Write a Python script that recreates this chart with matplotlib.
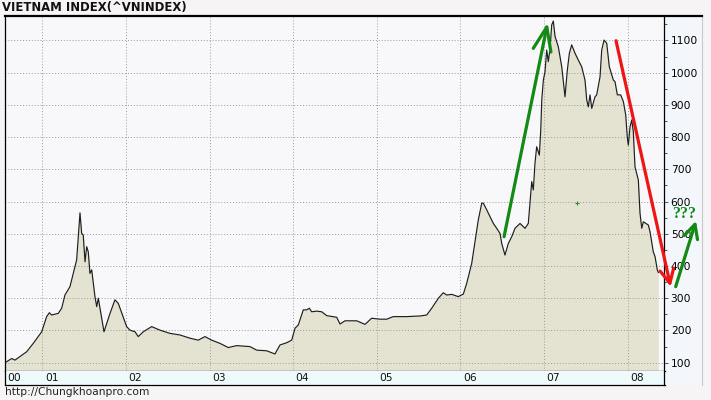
import matplotlib.pyplot as plt
from matplotlib.lines import Line2D
from matplotlib.patches import Rectangle
from matplotlib.ticker import MultipleLocator, FixedLocator

# VN-Index, decimal year vs. index value
years = [2000.553, 2000.633, 2000.672, 2000.732, 2000.812, 2000.891, 2000.992,
         2001.051, 2001.083, 2001.111, 2001.190, 2001.231, 2001.270, 2001.330,
         2001.410, 2001.450, 2001.470, 2001.489, 2001.510, 2001.530, 2001.549,
         2001.569, 2001.590, 2001.629, 2001.650, 2001.669, 2001.689, 2001.737,
         2001.809, 2001.868, 2001.908, 2002.008, 2002.048, 2002.108, 2002.147,
         2002.207, 2002.307, 2002.407, 2002.526, 2002.646, 2002.766, 2002.865,
         2002.945, 2003.025, 2003.124, 2003.224, 2003.324, 2003.483, 2003.563,
         2003.683, 2003.782, 2003.842, 2003.922, 2003.982, 2004.022, 2004.061,
         2004.121, 2004.161, 2004.193, 2004.221, 2004.281, 2004.341, 2004.401,
         2004.520, 2004.560, 2004.620, 2004.760, 2004.859, 2004.939, 2005.038,
         2005.118, 2005.197, 2005.358, 2005.517, 2005.597, 2005.657, 2005.736,
         2005.795, 2005.836, 2005.896, 2005.975, 2006.035, 2006.075, 2006.135,
         2006.214, 2006.255, 2006.274, 2006.315, 2006.354, 2006.394, 2006.434,
         2006.474, 2006.494, 2006.533, 2006.573, 2006.614, 2006.653, 2006.713,
         2006.773, 2006.812, 2006.853, 2006.872, 2006.892, 2006.912, 2006.944,
         2006.961, 2006.973, 2006.992, 2007.012, 2007.032, 2007.051, 2007.072,
         2007.092, 2007.111, 2007.132, 2007.171, 2007.212, 2007.251, 2007.279,
         2007.303, 2007.331, 2007.371, 2007.410, 2007.451, 2007.490, 2007.511,
         2007.530, 2007.550, 2007.571, 2007.610, 2007.630, 2007.670, 2007.690,
         2007.718, 2007.750, 2007.781, 2007.810, 2007.829, 2007.849, 2007.877,
         2007.917, 2007.949, 2007.977, 2007.996, 2008.008, 2008.029, 2008.049,
         2008.068, 2008.088, 2008.128, 2008.148, 2008.169, 2008.188, 2008.208,
         2008.248, 2008.268, 2008.307, 2008.328, 2008.355, 2008.367]
index = [100, 113, 108, 119, 134, 160, 196,
         243, 255, 248, 253, 269, 310, 336,
         419, 565, 501, 496, 413, 460, 444,
         377, 388, 305, 274, 300, 269, 196,
         253, 295, 284, 212, 201, 196, 181,
         196, 212, 201, 191, 186, 176, 170,
         181, 170, 160, 147, 153, 150, 139,
         137, 127, 155, 162, 170, 207, 217,
         264, 264, 269, 258, 260, 258, 246,
         241, 220, 230, 230, 219, 238, 235,
         235, 243, 243, 245, 248, 269, 300,
         317, 310, 312, 305, 313, 346, 408,
         543, 595, 595, 574, 553, 532, 517,
         501, 470, 434, 470, 491, 517, 532,
         517, 532, 662, 636, 719, 770, 744,
         822, 915, 977, 1003, 1070, 1034, 1075,
         1148, 1160, 1112, 1080, 1018, 925, 1008,
         1060, 1086, 1060, 1039, 1018, 977, 915,
         894, 931, 889, 925, 931, 987, 1070,
         1101, 1091, 1018, 993, 977, 972, 931,
         931, 910, 869, 800, 775, 832, 853,
         817, 708, 667, 564, 517, 537, 534,
         527, 506, 444, 429, 388, 380]

year_starts = [2000, 2001, 2002, 2003, 2004, 2005, 2006, 2007, 2008]
year_labels = ['00', '01', '02', '03', '04', '05', '06', '07', '08']
y_ticks = [100, 200, 300, 400, 500, 600, 700, 800, 900, 1000, 1100]

# hand-drawn arrows on the chart: (start, tip)
rally_arrow = ((2006.522, 491), (2007.044, 1155))
crash_arrow = ((2007.861, 1099), (2008.515, 336))
rebound_arrow = ((2008.575, 336), (2008.818, 540))
question_pos = (2008.671, 560)
dot_pos = (2007.395, 595)

W, H = 711, 400
fig = plt.figure(figsize=(W / 100, H / 100), dpi=100, facecolor='#f7f4f5')


def fx(px):
    return px / W


def fy(py):
    return 1 - py / H


ax = fig.add_axes([fx(5), fy(370.7), fx(664.5 - 5), (370.7 - 15.7) / H])
ax.set_facecolor('#f8f8fa')
ax.set_xlim(2000.553, 2008.441)
ax.set_ylim(75.2, 1176.6)

ax.fill_between(years, index, 0, color='#e4e3d1', lw=0)
ax.plot(years, index, color='#1e1e1e', lw=0.85)
ax.plot(*dot_pos, marker='+', color='#2a8a2a', ms=3, mew=0.8)

ax.xaxis.set_major_locator(FixedLocator(year_starts[1:]))
ax.yaxis.set_major_locator(FixedLocator(y_ticks))
ax.yaxis.set_minor_locator(MultipleLocator(50))
ax.grid(True, which='major', color='#9a9a9a', linestyle=(0, (1, 2)), lw=0.7)
ax.tick_params(axis='x', length=0, labelbottom=False)
ax.yaxis.tick_right()
ax.tick_params(axis='y', which='major', length=3, width=0.7, pad=1.5,
               labelsize=7.7, color='#555555')
ax.tick_params(axis='y', which='minor', length=2, width=0.7, color='#555555')
for s in ['left', 'bottom', 'right']:
    ax.spines[s].set_color('black')
    ax.spines[s].set_linewidth(0.9)
ax.spines['top'].set_visible(False)

# year label band under the plot
band = fig.add_axes([fx(5), fy(384.5), fx(664.5 - 5), 13.8 / H], sharex=ax)
band.set_facecolor('#eefafb')
band.set_ylim(0, 1)
band.tick_params(length=0, labelbottom=False, labelleft=False)
for s in band.spines.values():
    s.set_color('black')
    s.set_linewidth(0.9)
band.spines['top'].set_visible(False)
xmin = ax.get_xlim()[0]
for yr, lab in zip(year_starts, year_labels):
    band.text(max(yr, xmin) + 0.03, 0.45, lab, fontsize=7.7, ha='left',
              va='center', color='#111111')

# right axis panel, top rule, borders
fig.patches.append(Rectangle((fx(664.5), fy(385)), fx(702 - 664.5), (385 - 15.7) / H,
                             transform=fig.transFigure, facecolor='#f3f7fb',
                             edgecolor='none', zorder=-1))
fig.lines.append(Line2D([fx(702), fx(702)], [fy(15.7), fy(385)],
                        transform=fig.transFigure, color='#c8c8c8', lw=0.8))
fig.lines.append(Line2D([fx(4.5), fx(702)], [fy(15.7), fy(15.7)],
                        transform=fig.transFigure, color='black', lw=1.6))

fig.text(fx(2), fy(7), 'VIETNAM INDEX(^VNINDEX)', fontsize=8.4, fontweight='bold',
         ha='left', va='center', color='#111111')
fig.text(fx(5), fy(392), 'http://Chungkhoanpro.com', fontsize=7.7,
         ha='left', va='center', color='#222222')

green = '#138a13'
red = '#ee1515'
for (start, tip), col, hl, hw in [(rally_arrow, green, 1.7, 0.65),
                                  (crash_arrow, red, 1.0, 0.5),
                                  (rebound_arrow, green, 1.0, 0.5)]:
    ax.annotate('', xy=tip, xytext=start, annotation_clip=False,
                arrowprops=dict(arrowstyle='->,head_length=%s,head_width=%s' % (hl, hw),
                                color=col, lw=2.3, shrinkA=0, shrinkB=0,
                                mutation_scale=10))
ax.text(*question_pos, '???', color=green, fontsize=11.5, fontweight='bold',
        family='Liberation Serif', ha='center', va='center', clip_on=False)

fig.savefig('out.png', dpi=100, facecolor=fig.get_facecolor())
